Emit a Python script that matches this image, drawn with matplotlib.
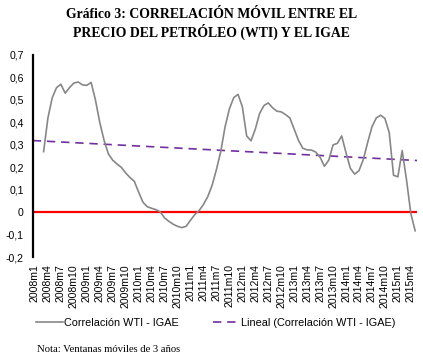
import numpy as np
import matplotlib
matplotlib.use("Agg")
import matplotlib.pyplot as plt

# monthly periods 2008m1 .. 2015m5
years = list(range(2008, 2016))
periods = [f"{y}m{m}" for y in years for m in range(1, 13)][:89]

# rolling correlation (starts 2008m3)
first_idx = 2
corr = [0.27, 0.42, 0.51, 0.555, 0.57, 0.53, 0.555, 0.575, 0.58, 0.567,
        0.565, 0.578, 0.50, 0.40, 0.32, 0.26, 0.232, 0.215, 0.20, 0.175,
        0.155, 0.138, 0.09, 0.045, 0.025, 0.018, 0.012, 0.002, -0.025, -0.04,
        -0.053, -0.062, -0.068, -0.062, -0.035, -0.01, 0.008, 0.035, 0.07, 0.12,
        0.19, 0.27, 0.38, 0.46, 0.51, 0.525, 0.47, 0.34, 0.318, 0.37,
        0.44, 0.475, 0.487, 0.465, 0.45, 0.447, 0.435, 0.42, 0.37, 0.32,
        0.285, 0.278, 0.277, 0.268, 0.245, 0.205, 0.232, 0.30, 0.307, 0.34,
        0.265, 0.196, 0.17, 0.185, 0.235, 0.31, 0.38, 0.42, 0.432, 0.418,
        0.355, 0.165, 0.158, 0.275, 0.145, -0.005, -0.082]

x = np.arange(first_idx, first_idx + len(corr))
y = np.array(corr)

# linear trend (like Excel's trendline)
slope, intercept = np.polyfit(x, y, 1)
x_trend = np.array([-0.5, x[-1] + 0.5])
y_trend = slope * x_trend + intercept

fig = plt.figure(figsize=(4.23, 3.63), dpi=100)
ax = fig.add_axes([32.8 / 423, 1 - 257.3 / 363, (417.3 - 32.8) / 423, (257.3 - 55) / 363])

ax.axhline(0, color="#FF0000", lw=1.6, zorder=1)
line1, = ax.plot(x, y, color="#878787", lw=1.2, zorder=3, label="Correlación WTI - IGAE")
line2, = ax.plot(x_trend, y_trend, color="#7030A0", lw=1.2, ls=(0, (5, 3.5)), zorder=2,
                 label="Lineal (Correlación WTI - IGAE)")

ax.set_xlim(-0.5, len(periods) - 0.5)
ax.set_ylim(-0.2, 0.7)
yt = np.round(np.arange(-0.2, 0.71, 0.1), 1)
ax.set_yticks(yt)
ax.set_yticklabels(["0" if v == 0 else f"{v:.1f}".replace(".", ",") for v in yt],
                   fontsize=7.6, family="Liberation Sans")
tick_pos = list(range(0, len(periods), 3))
ax.set_xticks(tick_pos)
ax.set_xticklabels([periods[i] for i in tick_pos], rotation=90, fontsize=7.6,
                   family="Liberation Sans")
ax.tick_params(axis="y", length=0, pad=6.5)
ax.tick_params(axis="x", length=0, pad=5)

for s in ["top", "right", "bottom"]:
    ax.spines[s].set_visible(False)
ax.spines["left"].set_linewidth(1.6)
ax.spines["left"].set_color("black")

fig.text(0.5, 1 - 15 / 363, "Gráfico 3: CORRELACIÓN MÓVIL ENTRE EL", ha="center", va="center",
         fontsize=9.9, fontweight="bold", family="Liberation Serif")
fig.text(0.5, 1 - 32 / 363, "PRECIO DEL PETRÓLEO (WTI) Y EL IGAE", ha="center", va="center",
         fontsize=9.9, fontweight="bold", family="Liberation Serif")

fig.legend(handles=[line1, line2], loc="center", bbox_to_anchor=(0.51, 1 - 323 / 363),
           ncol=2, frameon=False, prop={"family": "Liberation Sans", "size": 7.8},
           handlelength=2.5, handletextpad=0.05, columnspacing=3.2)

fig.text(37 / 423, 1 - 349 / 363, "Nota: Ventanas móviles de 3 años", ha="left", va="center",
         fontsize=7.7, family="Liberation Serif")

fig.savefig("out.png", dpi=100)
